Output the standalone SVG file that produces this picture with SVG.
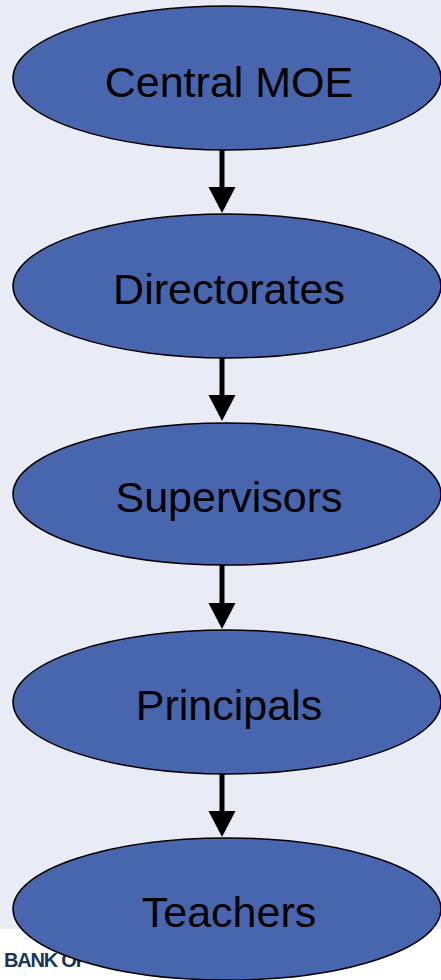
<svg xmlns="http://www.w3.org/2000/svg" width="441" height="980" viewBox="0 0 441 980">
<defs>
<style>
.node ellipse{fill:#4866AE;stroke:#000;stroke-width:1.5}
.node text{font-family:"Liberation Sans",Arial,sans-serif;font-size:43px;fill:#000;text-anchor:middle}
.conn line{stroke:#000;stroke-width:5}
.conn polygon{fill:#000}
</style>
</defs>
<rect x="0" y="0" width="441" height="929" fill="#E9ECF5"/>
<rect x="0" y="929" width="441" height="51" fill="#FFFFFF"/>
<text x="4" y="967" font-family="Liberation Sans,Arial,sans-serif" font-weight="bold" font-size="20" fill="#17365A" letter-spacing="-1.2" transform="translate(4 967) scale(1 1.05) translate(-4 -967)">BANK OF</text>
<g id="connectors" class="conn">
<line x1="222" y1="150" x2="222" y2="190"/><polygon points="208.5,187 235.5,187 222,213"/>
<line x1="222" y1="357" x2="222" y2="398"/><polygon points="208.5,395 235.5,395 222,421"/>
<line x1="222" y1="565" x2="222" y2="606"/><polygon points="208.5,603 235.5,603 222,629"/>
<line x1="222" y1="774" x2="222" y2="814"/><polygon points="208.5,811 235.5,811 222,837"/>
</g>
<g id="central-moe" class="node"><ellipse cx="227" cy="78" rx="214" ry="72"/><text x="229" y="97">Central MOE</text></g>
<g id="directorates" class="node"><ellipse cx="227" cy="286" rx="214" ry="72"/><text x="229" y="304">Directorates</text></g>
<g id="supervisors" class="node"><ellipse cx="227" cy="494" rx="214" ry="71"/><text x="229" y="512">Supervisors</text></g>
<g id="principals" class="node"><ellipse cx="227" cy="702" rx="214" ry="72"/><text x="229" y="720">Principals</text></g>
<g id="teachers" class="node"><ellipse cx="227" cy="909" rx="214" ry="71"/><text x="229" y="927">Teachers</text></g>
</svg>
